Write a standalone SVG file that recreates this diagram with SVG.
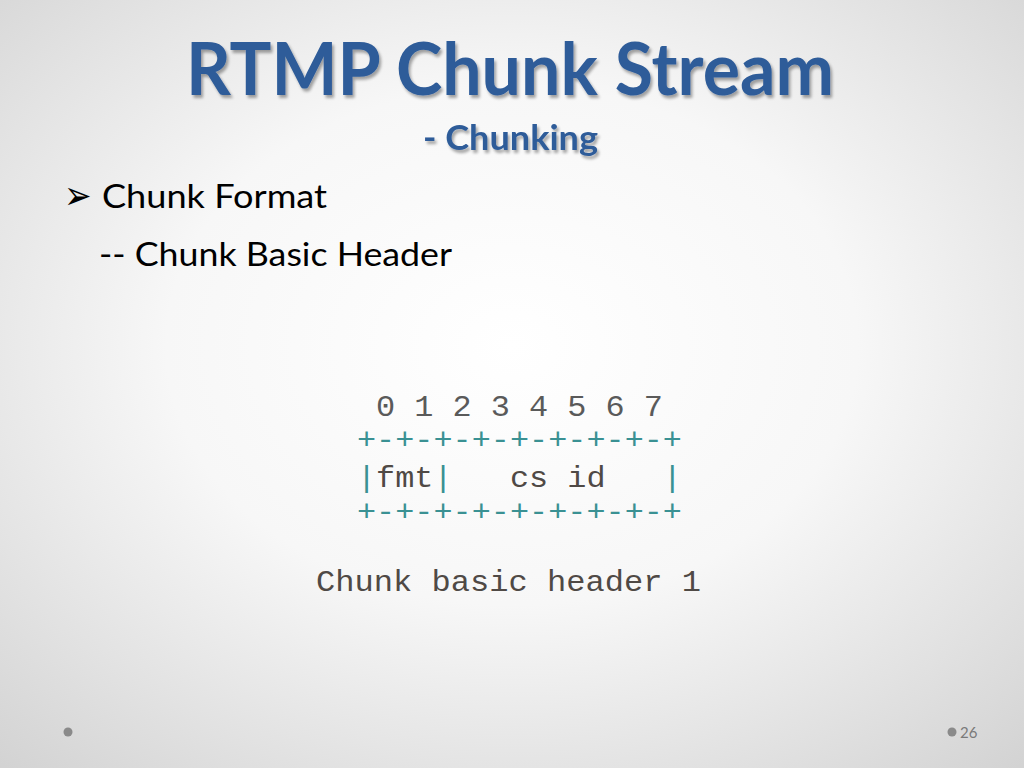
<svg xmlns="http://www.w3.org/2000/svg" width="1024" height="768" viewBox="0 0 1024 768">
<defs>
<radialGradient id="bg" cx="50%" cy="45%" r="75%" fx="50%" fy="45%">
<stop offset="0" stop-color="#ffffff"/>
<stop offset="0.45" stop-color="#f7f7f7"/>
<stop offset="1" stop-color="#d2d2d2"/>
</radialGradient>
<filter id="sh" x="-5%" y="-20%" width="110%" height="150%">
<feGaussianBlur in="SourceAlpha" stdDeviation="1.5"/>
<feOffset dx="2" dy="3" result="b"/>
<feComponentTransfer><feFuncA type="linear" slope="0.35"/></feComponentTransfer>
<feMerge><feMergeNode/><feMergeNode in="SourceGraphic"/></feMerge>
</filter>
</defs>
<style>
.title{font-family:Lato,"Open Sans","Liberation Sans",sans-serif;font-weight:bold;fill:#2F5C99}
.body{font-family:Lato,"Open Sans","Liberation Sans",sans-serif;fill:#000}
.mono{font-family:"Liberation Mono","DejaVu Sans Mono",monospace;font-size:29px;white-space:pre}
.grid{fill:#3a9193}
.lbl{fill:#4f4945}
.dot{fill:#8a8a8a}
</style>
<rect width="1024" height="768" fill="url(#bg)"/>
<g id="title" filter="url(#sh)">
<text class="title" x="186" y="95" font-size="72" textLength="648" lengthAdjust="spacingAndGlyphs">RTMP Chunk Stream</text>
<text class="title" x="423" y="150" font-size="34" textLength="175" lengthAdjust="spacingAndGlyphs">- Chunking</text>
</g>
<g id="bullets">
<text class="body" x="64" y="209" font-size="40" font-family="DejaVu Sans" textLength="28" lengthAdjust="spacingAndGlyphs">➢</text>
<text class="body" x="102" y="208" font-size="33" textLength="225" lengthAdjust="spacingAndGlyphs">Chunk Format</text>
<text class="body" x="99" y="266" font-size="33" textLength="353" lengthAdjust="spacingAndGlyphs">-- Chunk Basic Header</text>
</g>
<g id="header-diagram">
<text class="mono" x="376" y="416" fill="#5a5a5a" textLength="287" lengthAdjust="spacingAndGlyphs">0 1 2 3 4 5 6 7</text>
<text class="mono grid" x="357" y="449" textLength="325" lengthAdjust="spacingAndGlyphs">+-+-+-+-+-+-+-+-+</text>
<text class="mono" x="357" y="487" textLength="325" lengthAdjust="spacingAndGlyphs"><tspan class="grid">|</tspan><tspan class="lbl">fmt</tspan><tspan class="grid">|</tspan><tspan class="lbl">   cs id   </tspan><tspan class="grid">|</tspan></text>
<text class="mono grid" x="357" y="521" textLength="325" lengthAdjust="spacingAndGlyphs">+-+-+-+-+-+-+-+-+</text>
<text class="mono lbl" x="316" y="591" textLength="385" lengthAdjust="spacingAndGlyphs">Chunk basic header 1</text>
</g>
<g id="footer">
<circle class="dot" cx="68" cy="732" r="4.5"/>
<circle class="dot" cx="952" cy="732" r="4.5"/>
<text x="960" y="738" font-family="Lato,'Liberation Sans',sans-serif" font-size="15" fill="#7a7a7a">26</text>
</g>
</svg>
